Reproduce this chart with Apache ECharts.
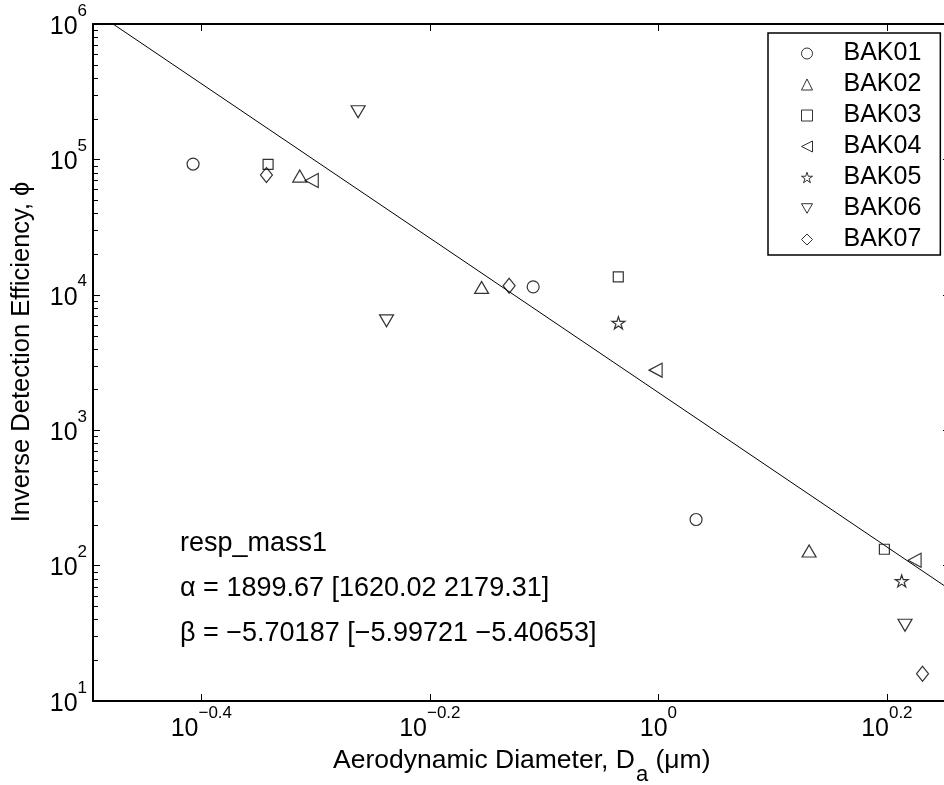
<!DOCTYPE html>
<html><head><meta charset="utf-8">
<script src="https://cdn.jsdelivr.net/npm/echarts@6/dist/echarts.min.js"></script>
<style>html,body{margin:0;padding:0;background:#fff;overflow:hidden;width:944px;height:785px}#c{width:951px;height:785px}</style>
</head><body><div id="c"></div>
<script>
// ---------- data ----------
const seriesNames = ['BAK01', 'BAK02', 'BAK03', 'BAK04', 'BAK05', 'BAK06', 'BAK07'];
const bak01X = [0.3915, 0.777, 1.079];
const bak01Y = [92400, 11450, 219];
const bak02X = [0.4854, 0.7003, 1.355];
const bak02Y = [75300, 11340, 128.3];
const bak03X = [0.4554, 0.9224, 1.577];
const bak03Y = [91900, 13580, 132.1];
const bak04X = [0.4973, 0.9945, 1.676];
const bak04Y = [69800, 2777, 109.6];
const bak05X = [0.9227, 1.633];
const bak05Y = [6209, 77.0];
const bak06X = [0.5460, 0.5782, 1.644];
const bak06Y = [224900, 6423, 36.3];
const bak07X = [0.4539, 0.7403, 1.703];
const bak07Y = [76600, 11650, 15.9];
// fitted power law line endpoints
const fitX = [0.3332, 1.8];
const fitY = [1000000, 66.5];
// axis ranges and tick exponents
const xRange = [0.32, 1.8];
const yRange = [10, 1000000];
const xTickExponents = [-0.4, -0.2, 0, 0.2];
const yTickExponents = [1, 2, 3, 4, 5, 6];
const yMinorMultipliers = [2, 3, 4, 5, 6, 7, 8, 9];
// annotation
const annotationLines = ['resp_mass1', '\u03b1 = 1899.67 [1620.02 2179.31]', '\u03b2 = \u22125.70187 [\u22125.99721 \u22125.40653]'];
const xTitleMain = 'Aerodynamic Diameter, D';
const xTitleSub = 'a';
const xTitleEnd = ' (\u03bcm)';
const yTitle = 'Inverse Detection Efficiency, \u03d5';

// ---------- chart ----------
const FONT = "'Liberation Sans', Arial, Helvetica, sans-serif";
const xs = [bak01X, bak02X, bak03X, bak04X, bak05X, bak06X, bak07X];
const ys = [bak01Y, bak02Y, bak03Y, bak04Y, bak05Y, bak06Y, bak07Y];
const starPath = 'path://M0,-100 L22.45,-30.9 L95.1,-30.9 L36.3,11.8 L58.8,80.9 L0,38.2 L-58.8,80.9 L-36.3,11.8 L-95.1,-30.9 L-22.45,-30.9 Z';
const symbols = ['circle', 'triangle', 'rect', 'path://M0,50 L100,0 L100,100 Z', starPath, 'path://M0,0 L100,0 L50,87 Z', 'diamond'];
const sizes = [12, [14, 12], 10, [13, 14], [13, 12], [14, 12], [12, 15]];

const xTickValues = xTickExponents.map(e => Math.pow(10, e));
const yTickValues = yTickExponents.map(e => Math.pow(10, e));
const yMinorValues = [];
yTickExponents.slice(0, -1).forEach(e => yMinorMultipliers.forEach(m => yMinorValues.push(m * Math.pow(10, e))));

function fmtExp(e) {
  const r = Math.round(e * 10) / 10;
  let s = (Math.abs(r) < 1e-9) ? '0' : String(Math.abs(r));
  if (r < -1e-9) s = '\u2212' + s;
  return s;
}
function makeLabel(list) {
  return function (v) {
    const e = Math.log10(v);
    const hit = list.find(t => Math.abs(t - e) < 1e-6);
    if (hit === undefined) return '';
    return '{b|10}{s|' + fmtExp(hit) + '}';
  };
}
const labelRich = {
  b: { fontSize: 25, fontFamily: FONT, color: '#000', verticalAlign: 'bottom', lineHeight: 25 },
  s: { fontSize: 17, fontFamily: FONT, color: '#000', verticalAlign: 'bottom', lineHeight: 17, padding: [0, 0, 20, 0] }
};
const lineBlack = { color: '#000', width: 2 };
const tickBlack = { color: '#000', width: 1 };

const series = seriesNames.map((name, i) => ({
  name: name,
  type: 'scatter',
  xAxisIndex: 0, yAxisIndex: 0,
  data: xs[i].map((x, j) => [x, ys[i][j]]),
  symbol: symbols[i],
  symbolSize: sizes[i],
  itemStyle: { color: 'rgba(255,255,255,0)', borderColor: '#000', borderWidth: 1.2 },
  emphasis: { disabled: true },
  z: 3
}));
series.push({
  name: 'fit',
  type: 'line',
  xAxisIndex: 0, yAxisIndex: 0,
  data: fitX.map((x, j) => [x, fitY[j]]),
  symbol: 'none',
  lineStyle: { color: '#000', width: 1 },
  emphasis: { disabled: true },
  z: 2
});
// minor ticks of the log y axis (left and right box sides), placed via the axis scales
series.push({
  name: 'yMinorTicks',
  type: 'custom',
  xAxisIndex: 0, yAxisIndex: 0,
  data: yMinorValues.map(v => [xRange[0], v]),
  encode: { x: 0, y: 1 },
  clip: false, silent: true, z: 5,
  renderItem: function (params, api) {
    const v = api.value(1);
    const pl = api.coord([xRange[0], v]);
    const pr = api.coord([xRange[1], v]);
    const yl = Math.round(pl[1]) + 0.5;
    const yr = Math.round(pr[1]) + 0.5;
    return {
      type: 'group',
      children: [
        { type: 'line', shape: { x1: pl[0], y1: yl, x2: pl[0] + 5, y2: yl }, style: { stroke: '#000', lineWidth: 1 } },
        { type: 'line', shape: { x1: pr[0] - 5, y1: yr, x2: pr[0], y2: yr }, style: { stroke: '#000', lineWidth: 1 } }
      ]
    };
  }
});

function xAxisDef(pos, showLabel) {
  return {
    type: 'log', logBase: 10, min: xRange[0], max: xRange[1], position: pos,
    axisLine: { show: true, lineStyle: lineBlack },
    axisTick: { show: true, inside: true, length: 7, lineStyle: tickBlack, customValues: xTickValues },
    axisLabel: showLabel
      ? { show: true, customValues: xTickValues, formatter: makeLabel(xTickExponents), rich: labelRich, margin: 16 }
      : { show: false },
    splitLine: { show: false }
  };
}
function yAxisDef(pos, showLabel) {
  return {
    type: 'log', logBase: 10, min: yRange[0], max: yRange[1], position: pos,
    axisLine: { show: true, lineStyle: lineBlack },
    axisTick: { show: true, inside: true, length: 7, lineStyle: tickBlack, customValues: yTickValues },
    axisLabel: showLabel
      ? { show: true, customValues: yTickValues, formatter: makeLabel(yTickExponents), rich: labelRich, margin: 6, padding: [6, 0, 0, 0] }
      : { show: false },
    splitLine: { show: false }
  };
}

const chart = echarts.init(document.getElementById('c'), null, { renderer: 'canvas' });
const option = {
  animation: false,
  backgroundColor: '#fff',
  grid: { left: 93, right: 1, top: 24, bottom: 84, containLabel: false },
  xAxis: [xAxisDef('bottom', true), xAxisDef('top', false)],
  yAxis: [yAxisDef('left', true), yAxisDef('right', false)],
  legend: {
    orient: 'vertical',
    left: 768, top: 33,
    padding: [8, 19, 3, 33],
    itemWidth: 11, itemHeight: 11, itemGap: 6,
    backgroundColor: '#fff',
    borderColor: '#000', borderWidth: 1.5, borderRadius: 0,
    data: seriesNames.map((n, i) => ({ name: n, icon: symbols[i] })),
    itemStyle: { color: 'rgba(255,255,255,0)', borderColor: '#000', borderWidth: 1 },
    textStyle: { fontSize: 25, fontFamily: FONT, color: '#000', lineHeight: 25, padding: [0, 0, 0, 26] },
    selectedMode: false
  },
  graphic: [
    {
      type: 'text', left: 180, top: 545 - 15,
      style: { text: annotationLines[0], font: '27px ' + FONT, fill: '#000' }
    },
    {
      type: 'text', left: 180, top: 590 - 15,
      style: { text: annotationLines[1], font: '27px ' + FONT, fill: '#000' }
    },
    {
      type: 'text', left: 180, top: 635 - 15,
      style: { text: annotationLines[2], font: '27px ' + FONT, fill: '#000' }
    },
    {
      type: 'text', x: 333, y: 747,
      style: {
        text: '{t|' + xTitleMain + '}{sub|' + xTitleSub + '}{t|' + xTitleEnd + '}',
        align: 'left', verticalAlign: 'top',
        rich: {
          t: { fontSize: 26.5, fontFamily: FONT, color: '#000', verticalAlign: 'top', lineHeight: 29 },
          sub: { fontSize: 22, fontFamily: FONT, color: '#000', verticalAlign: 'top', lineHeight: 22, padding: [17, 0, 0, 1] }
        }
      }
    },
    {
      type: 'text', x: 22, y: 352, rotation: Math.PI / 2,
      style: { text: yTitle, font: '25.5px ' + FONT, fill: '#000', align: 'center', verticalAlign: 'middle' }
    }
  ],
  series: series
};
chart.setOption(option);
</script>
</body></html>
